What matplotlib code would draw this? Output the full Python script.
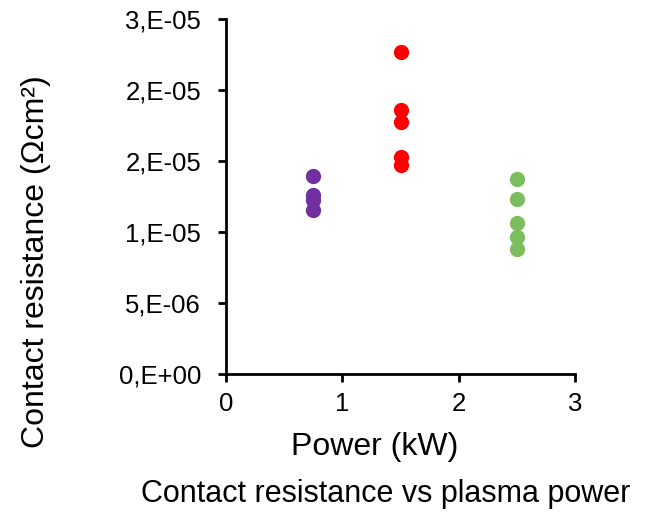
import matplotlib
matplotlib.use("Agg")
import matplotlib.pyplot as plt
from matplotlib.ticker import FixedLocator, FixedFormatter

plt.rcParams['font.family'] = ['Liberation Sans', 'DejaVu Sans']

# Data
power_purple = [0.75, 0.75, 0.75, 0.75]
res_purple = [1.393e-5, 1.262e-5, 1.227e-5, 1.157e-5]

power_red = [1.5, 1.5, 1.5, 1.5, 1.5]
res_red = [2.273e-5, 1.862e-5, 1.779e-5, 1.532e-5, 1.474e-5]

power_green = [2.5, 2.5, 2.5, 2.5, 2.5]
res_green = [1.373e-5, 1.232e-5, 1.063e-5, 0.968e-5, 0.879e-5]

x_ticks = [0, 1, 2, 3]
y_ticks = [0, 5e-6, 1e-5, 1.5e-5, 2e-5, 2.5e-5]
y_tick_labels = ["0,E+00", "5,E-06", "1,E-05", "2,E-05", "2,E-05", "3,E-05"]

fig = plt.figure(figsize=(6.61, 5.12), dpi=100)
ax = fig.add_axes([0.342, 0.2695, 0.528, 0.6925])

ms = 11
ax.plot(power_purple, res_purple, 'o', color='#7030a0', ms=ms, mew=0, clip_on=False)
ax.plot(power_red, res_red, 'o', color='#ff0000', ms=ms, mew=0, clip_on=False)
ax.plot(power_green, res_green, 'o', color='#7cbd5f', ms=ms, mew=0, clip_on=False)

ax.set_xlim(0, 3)
ax.set_ylim(0, 2.5e-5)
ax.xaxis.set_major_locator(FixedLocator(x_ticks))
ax.yaxis.set_major_locator(FixedLocator(y_ticks))
ax.yaxis.set_major_formatter(FixedFormatter(y_tick_labels))

for side in ['top', 'right']:
    ax.spines[side].set_visible(False)
for side in ['left', 'bottom']:
    ax.spines[side].set_linewidth(2)
ax.tick_params(axis='both', direction='out', length=6, width=2, labelsize=18.5)
ax.tick_params(axis='y', pad=12)
ax.tick_params(axis='x', pad=7)

fig.text(36 / 661, 1 - 262 / 512, "Contact resistance (Ωcm²)", rotation=90,
         ha='center', va='center', fontsize=23)
fig.text(375 / 661, 1 - 447 / 512, "Power (kW)", ha='center', va='center', fontsize=23)
fig.text(386 / 661, 1 - 494 / 512, "Contact resistance vs plasma power",
         ha='center', va='center', fontsize=22)

fig.savefig("out.png", dpi=100)
